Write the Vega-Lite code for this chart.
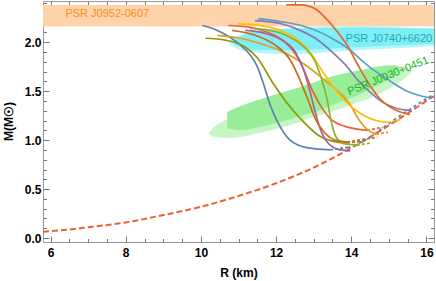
{
"$schema": "https://vega.github.io/schema/vega-lite/v6.json",
"width": 391, "height": 241,
"autosize": {"type": "none"},
"padding": {"left": 43, "top": 1, "right": 2, "bottom": 39},
"background": "white",
"config": {
  "view": {"stroke": "#9a9a9a", "strokeWidth": 1},
  "axis": {"domain": false, "grid": false, "tickColor": "#777777", "tickWidth": 1, "labelFont": "Liberation Sans", "labelFontSize": 12, "labelFontWeight": "bold", "labelColor": "#000", "titleFont": "Liberation Sans", "titleFontSize": 12, "titleFontWeight": "bold", "titleColor": "#000"},
  "text": {"font": "Liberation Sans"}
},
"datasets": {
  "band": [{"R1": 5.8, "R2": 16.2, "M1": 2.16, "M2": 2.38}],
  "cyanOuter": [
    {"R": 10.73, "hi": 1.99, "lo": 1.99}, {"R": 10.91, "hi": 2.05, "lo": 1.94}, {"R": 11.18, "hi": 2.09, "lo": 1.91},
    {"R": 11.58, "hi": 2.12, "lo": 1.89}, {"R": 12.11, "hi": 2.14, "lo": 1.88}, {"R": 12.64, "hi": 2.15, "lo": 1.88},
    {"R": 13.44, "hi": 2.16, "lo": 1.90}, {"R": 14.23, "hi": 2.16, "lo": 1.92}, {"R": 15.30, "hi": 2.15, "lo": 1.94},
    {"R": 16.2, "hi": 2.14, "lo": 1.96}],
  "cyanInner": [
    {"R": 10.91, "hi": 2.02, "lo": 1.97}, {"R": 11.18, "hi": 2.08, "lo": 1.94}, {"R": 11.58, "hi": 2.12, "lo": 1.92},
    {"R": 12.64, "hi": 2.14, "lo": 1.92}, {"R": 14.23, "hi": 2.15, "lo": 1.95}, {"R": 16.2, "hi": 2.14, "lo": 1.98}],
  "greenOuter": [
    {"R": 10.20, "hi": 1.071, "lo": 1.071}, {"R": 10.38, "hi": 1.143, "lo": 1.031}, {"R": 10.70, "hi": 1.214, "lo": 1.020},
    {"R": 11.05, "hi": 1.276, "lo": 1.031}, {"R": 11.50, "hi": 1.357, "lo": 1.071}, {"R": 11.98, "hi": 1.418, "lo": 1.112},
    {"R": 12.37, "hi": 1.469, "lo": 1.153}, {"R": 12.91, "hi": 1.531, "lo": 1.224}, {"R": 13.44, "hi": 1.592, "lo": 1.286},
    {"R": 13.97, "hi": 1.663, "lo": 1.357}, {"R": 14.50, "hi": 1.714, "lo": 1.429}, {"R": 15.03, "hi": 1.755, "lo": 1.531},
    {"R": 15.43, "hi": 1.755, "lo": 1.633}, {"R": 15.61, "hi": 1.694, "lo": 1.694}],
  "greenInner": [
    {"R": 10.70, "hi": 1.286, "lo": 1.122}, {"R": 11.05, "hi": 1.347, "lo": 1.102}, {"R": 11.58, "hi": 1.418, "lo": 1.133},
    {"R": 12.11, "hi": 1.480, "lo": 1.184}, {"R": 12.64, "hi": 1.541, "lo": 1.245}, {"R": 13.17, "hi": 1.612, "lo": 1.306},
    {"R": 13.70, "hi": 1.673, "lo": 1.388}, {"R": 14.23, "hi": 1.714, "lo": 1.469}, {"R": 14.76, "hi": 1.755, "lo": 1.571},
    {"R": 15.16, "hi": 1.765, "lo": 1.673}, {"R": 15.30, "hi": 1.735, "lo": 1.735}],
  "crust": [
    {"R": 5.8, "M": 0.065}, {"R": 6, "M": 0.07}, {"R": 7, "M": 0.11}, {"R": 8, "M": 0.16}, {"R": 9, "M": 0.235},
    {"R": 10, "M": 0.32}, {"R": 11, "M": 0.43}, {"R": 12, "M": 0.56}, {"R": 13, "M": 0.72}, {"R": 14, "M": 0.92},
    {"R": 15, "M": 1.15}, {"R": 16, "M": 1.40}, {"R": 16.2, "M": 1.45}],
  "blueDash": [
    {"R": 13.9, "M": 0.92}, {"R": 14.5, "M": 1.03}, {"R": 15, "M": 1.17}, {"R": 15.5, "M": 1.30}, {"R": 16.2, "M": 1.47}],
  "segs": [
    {"c": "b", "R": 13.44, "M": 0.90}, {"c": "b", "R": 13.97, "M": 0.93},
    {"c": "ol", "R": 13.89, "M": 0.97}, {"c": "ol", "R": 14.29, "M": 0.99},
    {"c": "or", "R": 14.66, "M": 1.06}, {"c": "or", "R": 14.98, "M": 1.08},
    {"c": "rA", "R": 14.42, "M": 1.10}, {"c": "rA", "R": 14.84, "M": 1.13},
    {"c": "go", "R": 14.95, "M": 1.18}, {"c": "go", "R": 15.35, "M": 1.21},
    {"c": "gr", "R": 14.15, "M": 0.95}, {"c": "gr", "R": 14.50, "M": 0.97},
    {"c": "br", "R": 13.89, "M": 0.98}, {"c": "br", "R": 14.69, "M": 1.03}],
  "curves": [
    {"c": "b", "R": 10.04, "M": 2.17}, {"c": "b", "R": 10.38, "M": 2.13}, {"c": "b", "R": 10.73, "M": 2.06}, {"c": "b", "R": 11.05, "M": 1.97},
    {"c": "b", "R": 11.31, "M": 1.87}, {"c": "b", "R": 11.50, "M": 1.75}, {"c": "b", "R": 11.66, "M": 1.58}, {"c": "b", "R": 11.84, "M": 1.36},
    {"c": "b", "R": 12.06, "M": 1.17}, {"c": "b", "R": 12.37, "M": 1.0}, {"c": "b", "R": 12.85, "M": 0.92}, {"c": "b", "R": 13.44, "M": 0.90},
    {"c": "ol", "R": 10.12, "M": 2.04}, {"c": "ol", "R": 10.65, "M": 2.02}, {"c": "ol", "R": 11.18, "M": 1.95}, {"c": "ol", "R": 11.50, "M": 1.84},
    {"c": "ol", "R": 11.92, "M": 1.58}, {"c": "ol", "R": 12.37, "M": 1.34}, {"c": "ol", "R": 12.77, "M": 1.17}, {"c": "ol", "R": 13.12, "M": 1.05},
    {"c": "ol", "R": 13.49, "M": 0.99}, {"c": "ol", "R": 13.89, "M": 0.97},
    {"c": "or", "R": 10.44, "M": 2.07}, {"c": "or", "R": 11.05, "M": 2.04}, {"c": "or", "R": 11.63, "M": 1.98}, {"c": "or", "R": 12.19, "M": 1.90},
    {"c": "or", "R": 12.77, "M": 1.77}, {"c": "or", "R": 13.30, "M": 1.61}, {"c": "or", "R": 13.70, "M": 1.48}, {"c": "or", "R": 13.97, "M": 1.36},
    {"c": "or", "R": 14.18, "M": 1.22}, {"c": "or", "R": 14.39, "M": 1.12}, {"c": "or", "R": 14.66, "M": 1.06},
    {"c": "rA", "R": 10.73, "M": 2.17}, {"c": "rA", "R": 11.31, "M": 2.15}, {"c": "rA", "R": 11.84, "M": 2.09}, {"c": "rA", "R": 12.24, "M": 2.0},
    {"c": "rA", "R": 12.53, "M": 1.87}, {"c": "rA", "R": 12.77, "M": 1.69}, {"c": "rA", "R": 12.96, "M": 1.51}, {"c": "rA", "R": 13.17, "M": 1.36},
    {"c": "rA", "R": 13.44, "M": 1.22}, {"c": "rA", "R": 13.84, "M": 1.14}, {"c": "rA", "R": 14.42, "M": 1.10},
    {"c": "go", "R": 10.99, "M": 2.19}, {"c": "go", "R": 11.58, "M": 2.17}, {"c": "go", "R": 12.11, "M": 2.12}, {"c": "go", "R": 12.59, "M": 2.02},
    {"c": "go", "R": 12.96, "M": 1.87}, {"c": "go", "R": 13.22, "M": 1.71}, {"c": "go", "R": 13.49, "M": 1.56}, {"c": "go", "R": 13.76, "M": 1.43},
    {"c": "go", "R": 14.10, "M": 1.31}, {"c": "go", "R": 14.50, "M": 1.22}, {"c": "go", "R": 14.95, "M": 1.18},
    {"c": "gr", "R": 11.31, "M": 2.14}, {"c": "gr", "R": 11.84, "M": 2.12}, {"c": "gr", "R": 12.37, "M": 2.05}, {"c": "gr", "R": 12.77, "M": 1.94},
    {"c": "gr", "R": 13.04, "M": 1.80}, {"c": "gr", "R": 13.22, "M": 1.61}, {"c": "gr", "R": 13.36, "M": 1.41}, {"c": "gr", "R": 13.46, "M": 1.20},
    {"c": "gr", "R": 13.60, "M": 1.03}, {"c": "gr", "R": 13.84, "M": 0.96}, {"c": "gr", "R": 14.15, "M": 0.95},
    {"c": "pu", "R": 11.44, "M": 2.22}, {"c": "pu", "R": 12.11, "M": 2.19}, {"c": "pu", "R": 12.64, "M": 2.12}, {"c": "pu", "R": 13.12, "M": 2.02},
    {"c": "pu", "R": 13.49, "M": 1.90}, {"c": "pu", "R": 13.84, "M": 1.77}, {"c": "pu", "R": 14.18, "M": 1.61}, {"c": "pu", "R": 14.50, "M": 1.49},
    {"c": "pu", "R": 14.82, "M": 1.39}, {"c": "pu", "R": 15.16, "M": 1.33}, {"c": "pu", "R": 15.61, "M": 1.30},
    {"c": "lb", "R": 11.52, "M": 2.24}, {"c": "lb", "R": 12.11, "M": 2.21}, {"c": "lb", "R": 12.67, "M": 2.17}, {"c": "lb", "R": 13.17, "M": 2.10},
    {"c": "lb", "R": 13.57, "M": 2.02}, {"c": "lb", "R": 13.97, "M": 1.92}, {"c": "lb", "R": 14.26, "M": 1.82}, {"c": "lb", "R": 14.58, "M": 1.72},
    {"c": "lb", "R": 14.90, "M": 1.64}, {"c": "lb", "R": 15.16, "M": 1.57}, {"c": "lb", "R": 15.43, "M": 1.51}, {"c": "lb", "R": 15.77, "M": 1.46},
    {"c": "lb", "R": 16.12, "M": 1.43},
    {"c": "rB", "R": 12.27, "M": 2.38}, {"c": "rB", "R": 12.67, "M": 2.38}, {"c": "rB", "R": 13.04, "M": 2.34}, {"c": "rB", "R": 13.38, "M": 2.22},
    {"c": "rB", "R": 13.70, "M": 2.07}, {"c": "rB", "R": 13.92, "M": 1.95}, {"c": "rB", "R": 14.10, "M": 1.82}, {"c": "rB", "R": 14.26, "M": 1.71},
    {"c": "rB", "R": 14.53, "M": 1.54}, {"c": "rB", "R": 14.79, "M": 1.41}, {"c": "rB", "R": 15.16, "M": 1.31}, {"c": "rB", "R": 15.56, "M": 1.26},
    {"c": "mg", "R": 11.18, "M": 2.12}, {"c": "mg", "R": 11.71, "M": 2.09}, {"c": "mg", "R": 12.16, "M": 2.02}, {"c": "mg", "R": 12.51, "M": 1.90},
    {"c": "mg", "R": 12.72, "M": 1.73}, {"c": "mg", "R": 12.88, "M": 1.53}, {"c": "mg", "R": 13.01, "M": 1.33}, {"c": "mg", "R": 13.17, "M": 1.12},
    {"c": "mg", "R": 13.38, "M": 0.97}, {"c": "mg", "R": 13.70, "M": 0.90}, {"c": "mg", "R": 13.97, "M": 0.89},
    {"c": "br", "R": 10.83, "M": 2.12}, {"c": "br", "R": 11.44, "M": 2.07}, {"c": "br", "R": 11.98, "M": 1.97}, {"c": "br", "R": 12.37, "M": 1.82},
    {"c": "br", "R": 12.64, "M": 1.61}, {"c": "br", "R": 12.85, "M": 1.41}, {"c": "br", "R": 13.04, "M": 1.22}, {"c": "br", "R": 13.28, "M": 1.08},
    {"c": "br", "R": 13.57, "M": 1.0}, {"c": "br", "R": 13.89, "M": 0.98}],
  "lab1": [{"R": 7.51, "M": 2.286, "t": "PSR J0952-0607"}],
  "lab2": [{"R": 15.0, "M": 2.03, "t": "PSR J0740+6620"}],
  "lab3": [{"R": 14.98, "M": 1.653, "t": "PSR J0030+0451"}]
},
"resolve": {"axis": {"x": "independent", "y": "independent"}},
"layer": [
  {"data": {"name": "band"}, "mark": {"type": "rect", "color": "#FFD3AA", "clip": true},
   "encoding": {
     "x": {"field": "R1", "type": "quantitative", "scale": {"domain": [5.8, 16.2], "nice": false, "zero": false},
           "axis": {"orient": "bottom", "values": [6, 8, 10, 12, 14, 16], "format": "d", "tickSize": -6, "labelPadding": 11, "title": "R (km)", "titleY": 25}},
     "x2": {"field": "R2"},
     "y": {"field": "M1", "type": "quantitative", "scale": {"domain": [-0.04, 2.42], "nice": false, "zero": false},
           "axis": {"orient": "left", "values": [0, 0.5, 1, 1.5, 2], "format": ".1f", "tickSize": -6, "labelPadding": 8, "title": "M(M☉)", "titleX": -28, "titleY": 120}},
     "y2": {"field": "M2"}}},
  {"data": {"name": "cyanOuter"}, "mark": {"type": "area", "color": "#B4F6FB", "clip": true, "interpolate": "monotone"},
   "encoding": {
     "x": {"field": "R", "type": "quantitative", "axis": {"orient": "bottom", "values": [6,6.5,7,7.5,8,8.5,9,9.5,10,10.5,11,11.5,12,12.5,13,13.5,14,14.5,15,15.5,16], "tickSize": -3.5, "labels": false, "title": null}},
     "y": {"field": "hi", "type": "quantitative", "axis": {"orient": "left", "values": [0,0.1,0.2,0.3,0.4,0.5,0.6,0.7,0.8,0.9,1,1.1,1.2,1.3,1.4,1.5,1.6,1.7,1.8,1.9,2,2.1,2.2,2.3,2.4], "tickSize": -3.5, "labels": false, "title": null}},
     "y2": {"field": "lo"}}},
  {"data": {"name": "cyanInner"}, "mark": {"type": "area", "color": "#80EEF7", "clip": true, "interpolate": "monotone"},
   "encoding": {
     "x": {"field": "R", "type": "quantitative", "axis": {"orient": "top", "values": [6, 8, 10, 12, 14, 16], "tickSize": -6, "labels": false, "title": null}},
     "y": {"field": "hi", "type": "quantitative", "axis": {"orient": "right", "values": [0, 0.5, 1, 1.5, 2], "tickSize": -6, "labels": false, "title": null}},
     "y2": {"field": "lo"}}},
  {"data": {"name": "greenOuter"}, "mark": {"type": "area", "color": "#C6F6C6", "clip": true, "interpolate": "monotone"},
   "encoding": {
     "x": {"field": "R", "type": "quantitative", "axis": {"orient": "top", "values": [6,6.5,7,7.5,8,8.5,9,9.5,10,10.5,11,11.5,12,12.5,13,13.5,14,14.5,15,15.5,16], "tickSize": -3.5, "labels": false, "title": null}},
     "y": {"field": "hi", "type": "quantitative", "axis": {"orient": "right", "values": [0,0.1,0.2,0.3,0.4,0.5,0.6,0.7,0.8,0.9,1,1.1,1.2,1.3,1.4,1.5,1.6,1.7,1.8,1.9,2,2.1,2.2,2.3,2.4], "tickSize": -3.5, "labels": false, "title": null}},
     "y2": {"field": "lo"}}},
  {"data": {"name": "greenInner"}, "mark": {"type": "area", "color": "#98EE98", "clip": true, "interpolate": "monotone"},
   "encoding": {
     "x": {"field": "R", "type": "quantitative", "axis": null},
     "y": {"field": "hi", "type": "quantitative", "axis": null},
     "y2": {"field": "lo"}}},
  {"data": {"name": "crust"}, "mark": {"type": "line", "color": "#EB6235", "strokeWidth": 2, "strokeDash": [6, 3], "clip": true, "interpolate": "monotone"},
   "encoding": {
     "x": {"field": "R", "type": "quantitative", "axis": null},
     "y": {"field": "M", "type": "quantitative", "axis": null}}},
  {"data": {"name": "blueDash"}, "mark": {"type": "line", "color": "#5E81B5", "strokeWidth": 1.8, "strokeDash": [3, 3], "clip": true, "interpolate": "monotone"},
   "encoding": {
     "x": {"field": "R", "type": "quantitative", "axis": null},
     "y": {"field": "M", "type": "quantitative", "axis": null}}},
  {"data": {"name": "segs"}, "mark": {"type": "line", "strokeWidth": 1.8, "strokeDash": [3, 2], "clip": true},
   "encoding": {
     "x": {"field": "R", "type": "quantitative", "axis": null},
     "y": {"field": "M", "type": "quantitative", "axis": null},
     "color": {"field": "c", "type": "nominal", "legend": null,
       "scale": {"domain": ["b","ol","or","rA","go","gr","pu","lb","rB","mg","br"], "range": ["#5E81B5","#929600","#E19C24","#EB6235","#FFBF00","#8FB032","#8778B3","#5D9EC7","#E06A2C","#A5609D","#C56E1A"]}}}},
  {"data": {"name": "curves"}, "mark": {"type": "line", "strokeWidth": 1.7, "clip": true, "interpolate": "monotone"},
   "encoding": {
     "x": {"field": "R", "type": "quantitative", "axis": null},
     "y": {"field": "M", "type": "quantitative", "axis": null},
     "color": {"field": "c", "type": "nominal", "legend": null}}},
  {"data": {"name": "lab1"}, "mark": {"type": "text", "color": "#FF8C1A", "fontSize": 11},
   "encoding": {"x": {"field": "R", "type": "quantitative", "axis": null}, "y": {"field": "M", "type": "quantitative", "axis": null}, "text": {"field": "t"}}},
  {"data": {"name": "lab2"}, "mark": {"type": "text", "color": "#1EA8B4", "fontSize": 11},
   "encoding": {"x": {"field": "R", "type": "quantitative", "axis": null}, "y": {"field": "M", "type": "quantitative", "axis": null}, "text": {"field": "t"}}},
  {"data": {"name": "lab3"}, "mark": {"type": "text", "color": "#1DB01D", "fontSize": 11, "angle": -22},
   "encoding": {"x": {"field": "R", "type": "quantitative", "axis": null}, "y": {"field": "M", "type": "quantitative", "axis": null}, "text": {"field": "t"}}}
]
}
